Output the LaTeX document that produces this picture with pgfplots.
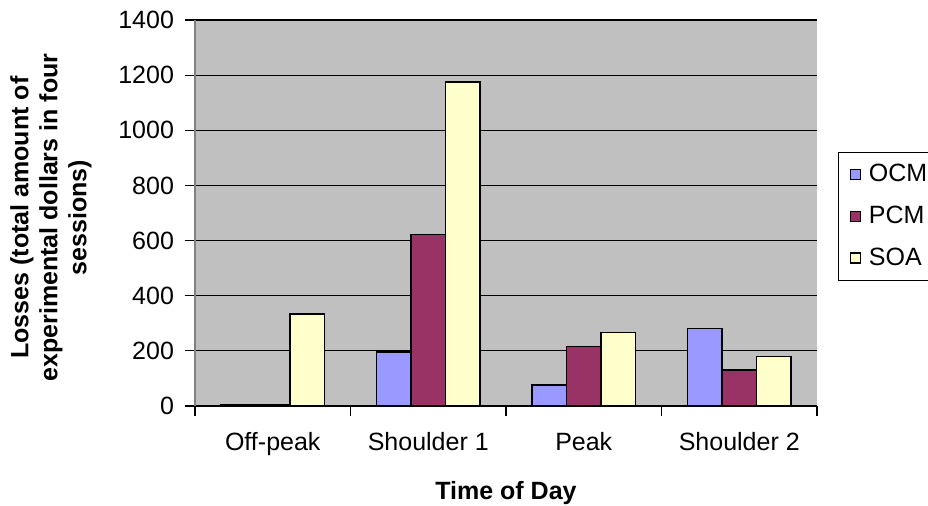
\documentclass[border=0pt]{standalone}
\usepackage{fontspec}
\setmainfont{Liberation Sans}
\usepackage{pgfplots}
\pgfplotsset{compat=1.18}
\definecolor{ocm}{HTML}{9999FF}
\definecolor{pcm}{HTML}{993366}
\definecolor{soa}{HTML}{FFFFCC}
\definecolor{plotbg}{HTML}{C0C0C0}
\begin{document}
\begin{tikzpicture}
\useasboundingbox (-97.5pt,-49.5pt) rectangle (366.5pt,203pt);
\begin{axis}[
  at={(0,0)}, anchor=south west,
  scale only axis, width=311pt, height=193pt,
  xmin=-0.5, xmax=3.5, ymin=0, ymax=1400,
  ytick={0,200,...,1400},
  /pgf/number format/1000 sep={},
  /pgf/number format/assume math mode=true,
  ymajorgrids,
  major grid style={black, line width=0.6pt},
  axis background/.style={fill=plotbg},
  axis x line*=bottom, axis y line*=left,
  x axis line style={black, line width=0.6pt, -},
  y axis line style={gray, line width=0.8pt, -},
  xtick={0,1,2,3},
  xticklabels={Off-peak,Shoulder 1,Peak,Shoulder 2},
  major x tick style={draw=none},
  minor xtick={-0.5,0.5,1.5,2.5,3.5},
  tick align=outside, major tick length=5pt, minor tick length=5pt,
  tick style={black, line width=0.6pt},
  tick label style={font=\fontsize{12.5}{15}\selectfont},
  xticklabel style={yshift=-4.7pt},
  yticklabel style={xshift=-2pt},
  ybar=0pt, bar width=0.222,
  ylabel={Losses (total amount of\\experimental dollars in four\\sessions)},
  ylabel style={font=\bfseries\fontsize{12.5}{14.5}\selectfont, align=center,
    at={(axis description cs:-0.2315,0.488)}, anchor=center},
  xlabel={Time of Day},
  xlabel style={font=\bfseries\fontsize{12.5}{15}\selectfont,
    at={(axis description cs:0.5,0)}, anchor=center, yshift=-43.3pt},
  legend style={at={(rel axis cs:1.0338,0.658)}, anchor=north west,
    draw=black, fill=white, font=\fontsize{12.5}{15}\selectfont,
    row sep=6.6pt, inner xsep=0pt, inner ysep=4pt},
  legend cell align=left,
  legend image code/.code={\path (0pt,0pt); \draw[#1, line width=0.6pt] (5.5pt,-2.5pt) rectangle (10.5pt,2.5pt); \path (12.5pt,0pt);},
]
\addplot[fill=ocm, draw=black, line width=0.75pt] coordinates {(0,5) (1,195) (2,76) (3,282)};
\addplot[fill=pcm, draw=black, line width=0.75pt] coordinates {(0,5) (1,622) (2,215) (3,130)};
\addplot[fill=soa, draw=black, line width=0.75pt] coordinates {(0,333) (1,1175) (2,267) (3,179)};
\legend{OCM,PCM,SOA}
\end{axis}
\end{tikzpicture}
\end{document}
